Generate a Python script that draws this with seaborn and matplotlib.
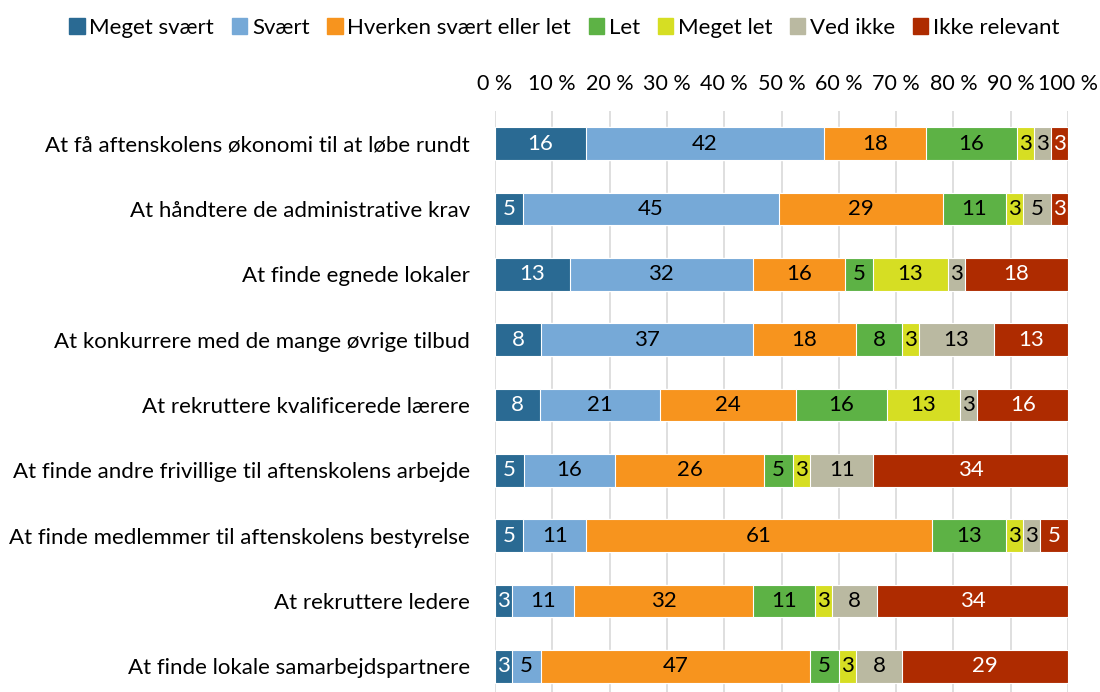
import numpy as np
import pandas as pd
import matplotlib
matplotlib.use('Agg')
import matplotlib.pyplot as plt
import seaborn as sns

items = [
    'At få aftenskolens økonomi til at løbe rundt',
    'At håndtere de administrative krav',
    'At finde egnede lokaler',
    'At konkurrere med de mange øvrige tilbud',
    'At rekruttere kvalificerede lærere',
    'At finde andre frivillige til aftenskolens arbejde',
    'At finde medlemmer til aftenskolens bestyrelse',
    'At rekruttere ledere',
    'At finde lokale samarbejdspartnere',
]
answers = ['Meget svært', 'Svært', 'Hverken svært eller let', 'Let',
           'Meget let', 'Ved ikke', 'Ikke relevant']

meget_svaert = [16, 5, 13, 8, 8, 5, 5, 3, 3]
svaert = [42, 45, 32, 37, 21, 16, 11, 11, 5]
hverken = [18, 29, 16, 18, 24, 26, 61, 32, 47]
let = [16, 11, 5, 8, 16, 5, 13, 11, 5]
meget_let = [3, 3, 13, 3, 13, 3, 3, 3, 3]
ved_ikke = [3, 5, 3, 13, 3, 11, 3, 8, 8]
ikke_relevant = [3, 3, 18, 13, 16, 34, 5, 34, 29]

colors = ['#2A6A93', '#76A9D7', '#F7941E', '#5DB245', '#D6DE23', '#BAB9A1', '#AE2B00']
text_colors = ['white', 'black', 'black', 'black', 'black', 'black', 'white']

df = pd.DataFrame({'item': items, 'Meget svært': meget_svaert, 'Svært': svaert,
                   'Hverken svært eller let': hverken, 'Let': let, 'Meget let': meget_let,
                   'Ved ikke': ved_ikke, 'Ikke relevant': ikke_relevant})
vals = df[answers].to_numpy(dtype=float)
share = vals / vals.sum(axis=1, keepdims=True) * 100
cum = np.cumsum(share, axis=1)

plt.rcParams['font.family'] = ['Lato', 'DejaVu Sans']
fig = plt.figure(figsize=(11, 6.92), dpi=100)
ax = fig.add_axes([0.45, -0.0101, 0.521, 0.8497])

# stack by drawing cumulative bars from the longest to the shortest
for j in range(len(answers) - 1, -1, -1):
    sns.barplot(x=cum[:, j], y=items, orient='h', color=colors[j], width=0.5,
                saturation=1, edgecolor='white', linewidth=0.8, ax=ax, zorder=3)

for i in range(len(items)):
    for j in range(len(answers)):
        left = cum[i, j] - share[i, j]
        ax.text(left + share[i, j] / 2, i, f'{vals[i, j]:.0f}', ha='center', va='center',
                fontsize=16, color=text_colors[j], zorder=4)

ax.set_xlim(0, 100)
ax.set_ylim(8.5, -0.5)
ax.set_xticks(np.arange(0, 101, 10))
ax.set_xticklabels([f'{t} %' for t in range(0, 101, 10)], fontsize=15.5)
ax.xaxis.tick_top()
ax.tick_params(axis='x', length=0, pad=12)
ax.tick_params(axis='y', length=0, pad=18, labelsize=16)
ax.set_xlabel('')
ax.set_ylabel('')
ax.xaxis.grid(True, color='#D9D9D9', linewidth=1.2, zorder=0)
ax.set_axisbelow(True)
for s in ax.spines.values():
    s.set_visible(False)

handles = [plt.Rectangle((0, 0), 1, 1, color=c) for c in colors]
fig.legend(handles, answers, loc='upper center', bbox_to_anchor=(0.513, 1.003), ncol=7,
           frameon=False, fontsize=16, handlelength=0.7, handleheight=0.7,
           handletextpad=0.2, columnspacing=0.8)

fig.savefig('out.png', dpi=100)
